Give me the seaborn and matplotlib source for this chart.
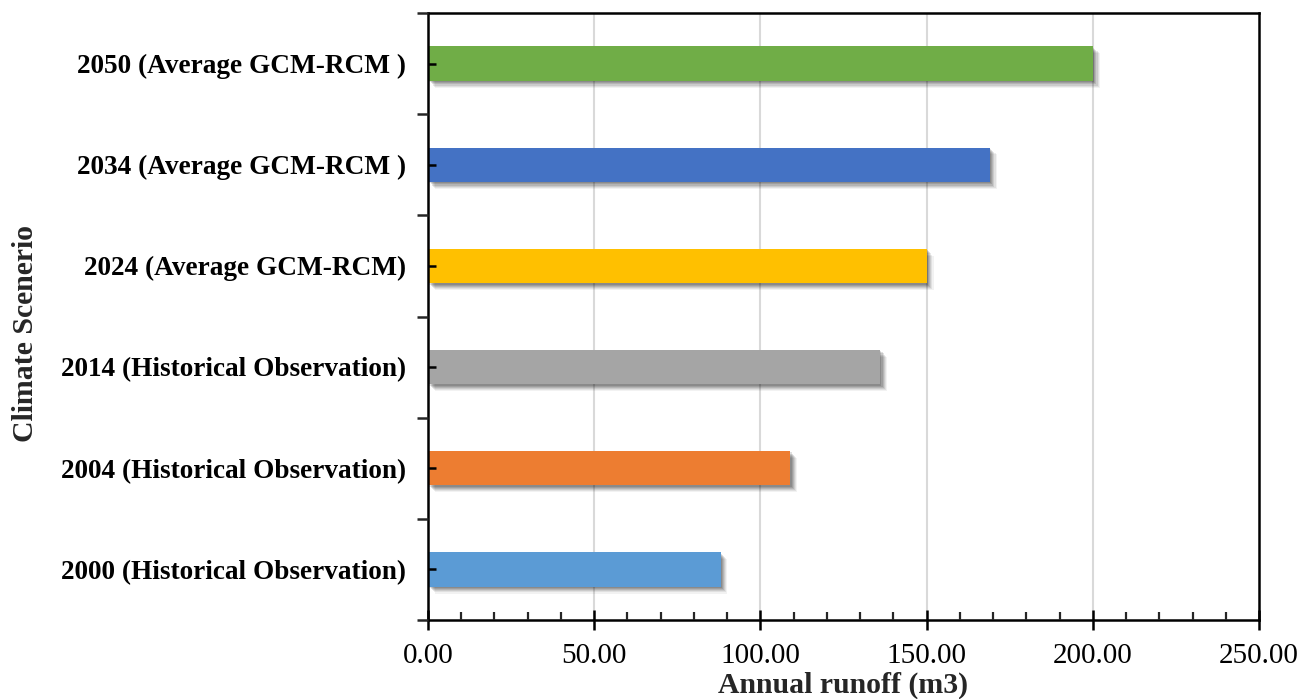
import matplotlib
matplotlib.use("Agg")
import matplotlib.pyplot as plt
import matplotlib.patheffects as pe
from matplotlib.ticker import MultipleLocator, FixedLocator, FormatStrFormatter
import seaborn as sns
import pandas as pd

# Climate scenarios, listed top to bottom
scenarios = [
    "2050 (Average GCM-RCM )",
    "2034 (Average GCM-RCM )",
    "2024 (Average GCM-RCM)",
    "2014 (Historical Observation)",
    "2004 (Historical Observation)",
    "2000 (Historical Observation)",
]
runoff = [200, 169, 150, 136, 109, 88]
bar_colors = ["#70AD47", "#4472C4", "#FFC000", "#A5A5A5", "#ED7D31", "#5B9BD5"]

df = pd.DataFrame({"scenario": scenarios, "runoff": runoff})

sns.set_style("white")
plt.rcParams["font.family"] = ["Liberation Serif", "DejaVu Serif"]

fig = plt.figure(figsize=(13.14, 6.99), dpi=100)
ax = fig.add_axes([428 / 1314, 1 - 620 / 699, (1259 - 428) / 1314, (620 - 13) / 699])

sns.barplot(
    data=df, x="runoff", y="scenario", hue="scenario",
    palette=bar_colors, order=scenarios, hue_order=scenarios,
    orient="h", width=0.34, legend=False, saturation=1,
    linewidth=0, ax=ax, zorder=2,
)

# soft drop shadow under each bar
shadow = [
    pe.SimplePatchShadow(offset=(d, -d), shadow_rgbFace="black", alpha=a)
    for d, a in [(5.0, 0.05), (4.2, 0.07), (3.4, 0.09), (2.6, 0.11), (1.8, 0.12), (1.0, 0.12)]
] + [pe.Normal()]
for patch in ax.patches:
    patch.set_path_effects(shadow)

ax.set_xlim(0, 250)
ax.set_ylim(5.5, -0.5)

# x axis: major ticks every 50 crossing the spine, minor ticks every 10 inside
ax.xaxis.set_major_locator(MultipleLocator(50))
ax.xaxis.set_minor_locator(MultipleLocator(10))
ax.xaxis.set_major_formatter(FormatStrFormatter("%.2f"))
ax.tick_params(axis="x", which="both", bottom=True, top=False)
ax.tick_params(axis="x", which="major", direction="inout", length=15, width=1.8,
               labelsize=21, pad=9, colors="black")
ax.tick_params(axis="x", which="minor", direction="in", length=6, width=1.6)

# y axis: short inward ticks at the bars, outward ticks between categories
ax.yaxis.set_minor_locator(FixedLocator([i - 0.5 for i in range(len(scenarios) + 1)]))
ax.tick_params(axis="y", which="both", left=True, right=False)
ax.tick_params(axis="y", which="major", direction="in", length=6, width=1.8,
               labelsize=19.6, pad=16, colors="black")
ax.tick_params(axis="y", which="minor", direction="out", length=8, width=1.8)
for lbl in ax.get_yticklabels():
    lbl.set_fontweight("bold")

# vertical grid lines behind the bars, while ticks and spines stay on top
ax.grid(False)
ax.set_axisbelow(False)
for xv in ax.xaxis.get_majorticklocs():
    if 0 < xv < 250:
        ax.axvline(xv, color="#d9d9d9", linewidth=1.5, zorder=0.5)

for side in ["left", "right", "top", "bottom"]:
    ax.spines[side].set_visible(True)
    ax.spines[side].set_color("black")
    ax.spines[side].set_linewidth(1.8)

ax.set_xlabel("Annual runoff (m3)", fontsize=21.4, fontweight="bold", labelpad=2)
ax.set_ylabel("Climate Scenerio", fontsize=21.4, fontweight="bold")
ax.yaxis.set_label_coords((39 - 428) / (1259 - 428), (620 - 334) / (620 - 13))

fig.savefig("out.png", dpi=100)
